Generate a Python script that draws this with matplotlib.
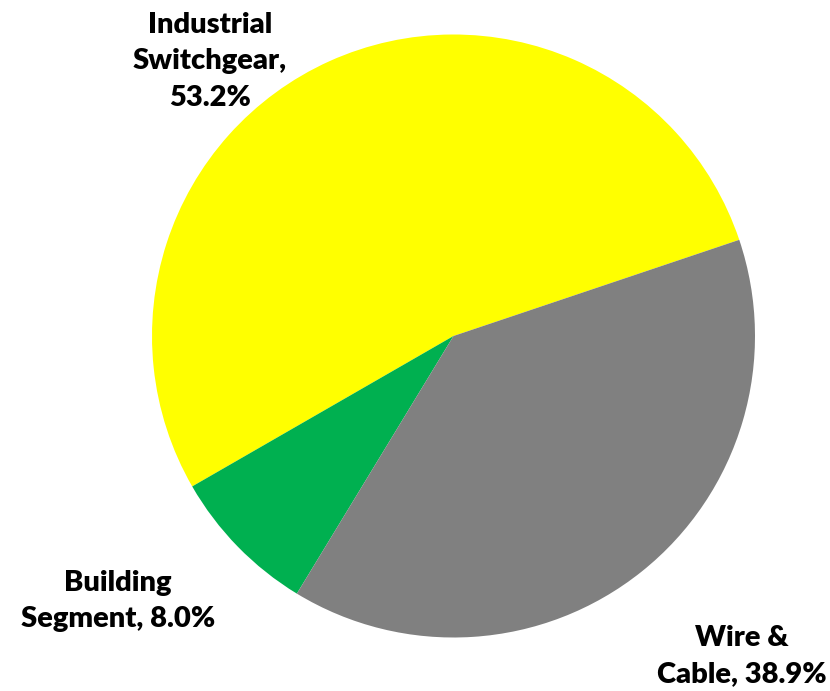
import matplotlib
matplotlib.use("Agg")
import matplotlib.pyplot as plt

categories = ["Industrial\nSwitchgear,", "Building\nSegment,", "Wire &\nCable,"]
values = [53.2, 8.0, 38.9]
pct_labels = ["53.2%", "8.0%", "38.9%"]
colors = ["#FFFF00", "#00B050", "#808080"]

W, H = 830, 691
fig = plt.figure(figsize=(W / 100, H / 100), dpi=100)
ax = fig.add_axes([0, 0, 1, 1])

cx, cy, r = 453.5, H - 336, 301.5
ax.pie(values, colors=colors, startangle=18.6, counterclock=True,
       center=(cx, cy), radius=r, frame=True,
       wedgeprops=dict(linewidth=0))
ax.set_xlim(0, W)
ax.set_ylim(0, H)
ax.set_aspect("equal")
ax.axis("off")

font = dict(family=["Lato", "DejaVu Sans"], fontsize=21, fontweight="heavy",
            color="black", ha="center", va="center", linespacing=1.5)
texts = [
    ("Industrial\nSwitchgear,\n53.2%", 210, 61),
    ("Building\nSegment, 8.0%", 118, 601),
    ("Wire &\nCable, 38.9%", 742, 656),
]
for t, x, y in texts:
    ax.text(x, H - y, t, **font)

fig.savefig("out.png", dpi=100)
